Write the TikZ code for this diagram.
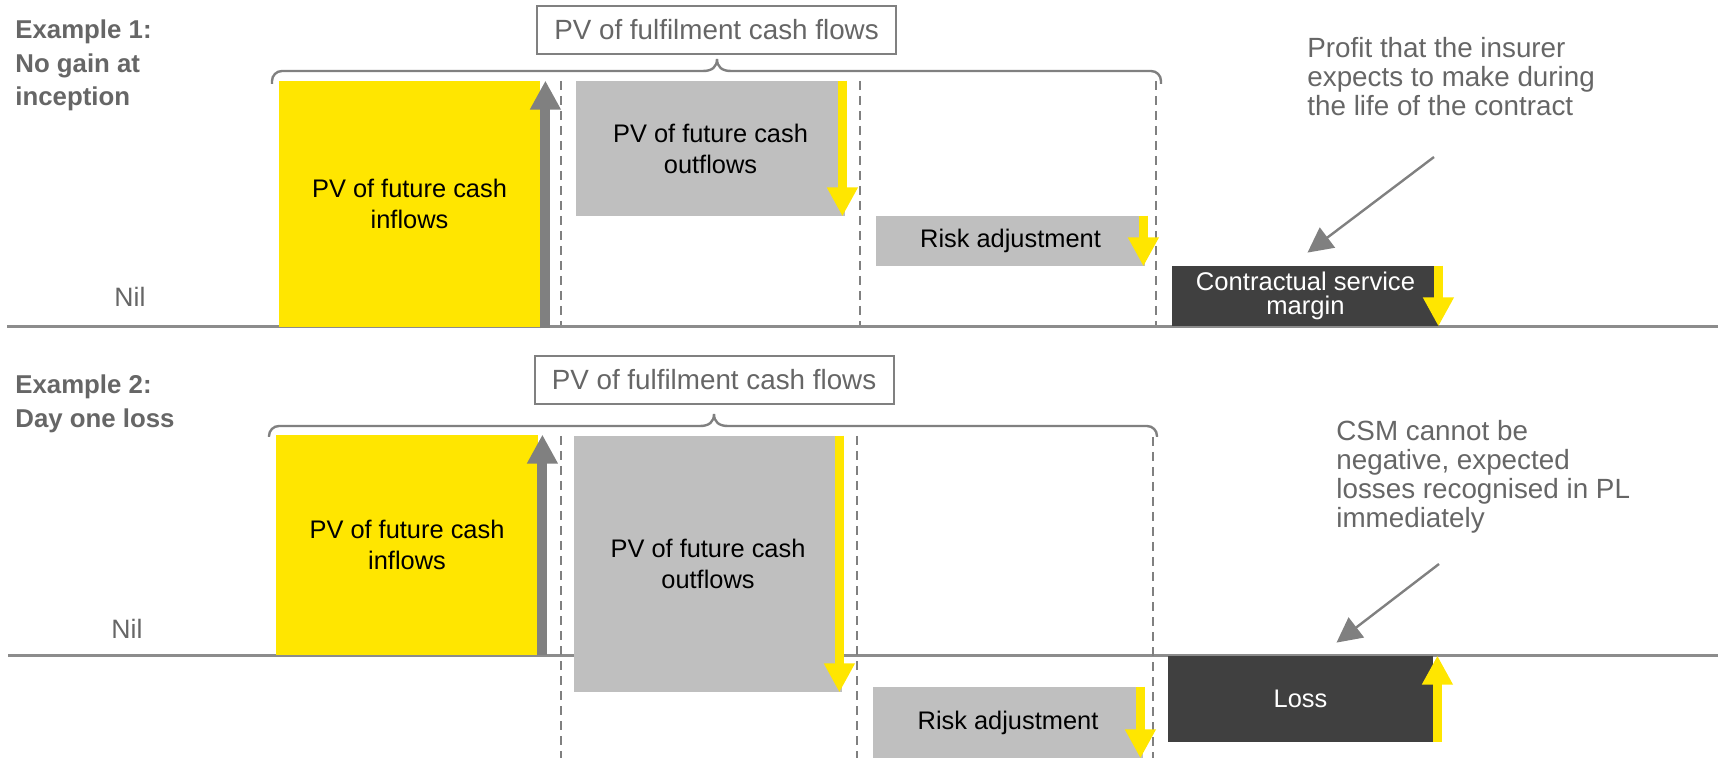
\documentclass[tikz,border=0pt]{standalone}
\usepackage{fontspec}
\setmainfont{Liberation Sans}
\usetikzlibrary{arrows.meta,calc}

\definecolor{eyyellow}{HTML}{FFE600}
\definecolor{boxgray}{HTML}{BFBFBF}
\definecolor{darkbox}{HTML}{404040}
\definecolor{arrowgray}{HTML}{808080}
\definecolor{linegray}{HTML}{8C8C8C}
\definecolor{textgray}{HTML}{666666}

\begin{document}
\begin{tikzpicture}[x=0.5pt,y=-0.5pt,
  block/.style={inner sep=0pt, align=center, font=\fontsize{12.7pt}{15.5pt}\selectfont},
  inbox/.style={block, fill=eyyellow},
  outbox/.style={block, fill=boxgray},
  marginbox/.style={block, fill=darkbox, text=white},
  flowtitle/.style={draw=arrowgray, line width=1pt, fill=white, text=textgray,
    font=\fontsize{13.9pt}{16pt}\selectfont, minimum width=179.5pt,
    minimum height=24pt, inner sep=0pt},
  casetitle/.style={anchor=north west, inner sep=0pt, align=left, text=textgray,
    font=\bfseries\fontsize{12.9pt}{16.75pt}\selectfont},
  nillabel/.style={anchor=base, inner sep=0pt, text=textgray,
    font=\fontsize{13.3pt}{16pt}\selectfont},
  note/.style={anchor=north west, inner sep=0pt, align=left, text=textgray,
    font=\fontsize{13.9pt}{14.5pt}\selectfont},
  axis/.style={draw=linegray, line width=1.5pt},
  divider/.style={draw=arrowgray, line width=1.35pt, dash pattern=on 4.5pt off 3pt},
  bracepen/.style={draw=arrowgray, line width=1.2pt},
  riseflow/.style={draw=arrowgray, line width=5pt,
    -{Triangle[length=14.5pt,width=14.5pt]}},
  dropflow/.style={draw=eyyellow, line width=4.2pt,
    -{Triangle[length=14.5pt,width=14.5pt]}},
  pointer/.style={draw=arrowgray, line width=1.2pt,
    -{Triangle[length=12.5pt,width=12.5pt]}}
]
\useasboundingbox (0,0) rectangle (1718,758);

% ---------- Example 1: no gain at inception ----------
\draw[axis] (7,327) -- (1718,327);
\draw[divider] (561,81) -- (561,325);
\draw[divider] (860,81) -- (860,325);
\draw[divider] (1156,81) -- (1156,325);

\node[casetitle] (caseA) at (15,19.5) {Example 1:\\No gain at\\inception};
\node[nillabel] (nilA) at (130,307) {Nil};

\node[flowtitle] (fcfA) at (716.5,30) {PV of fulfilment cash flows};
\draw[bracepen, rounded corners=5pt] (272,84) -- (272,71) -- (703,71);
\draw[bracepen] (703,71) .. controls (712,71) and (717,67) .. (717,59)
  .. controls (717,67) and (722,71) .. (731,71);
\draw[bracepen, rounded corners=5pt] (731,71) -- (1161,71) -- (1161,84);

\node[inbox, minimum width=130.5pt, minimum height=123pt] (inA) at (409.5,204)
  {PV of future cash\\inflows};
\node[outbox, minimum width=134.5pt, minimum height=67.5pt] (outA) at (710.5,148.5)
  {PV of future cash\\outflows};
\node[outbox, minimum width=134.5pt, minimum height=25pt] (riskA) at (1010.5,241)
  {Risk adjustment};
\node[marginbox, minimum width=133.5pt, minimum height=30pt,
  font=\fontsize{12.8pt}{12.2pt}\selectfont] (csm) at (1305.5,296)
  {Contractual service\\margin};

\draw[riseflow] ($(inA.south east)+(5,1)$) -- ($(inA.north east)+(5,0)$);
\draw[dropflow] ($(outA.north east)+(-3,0)$) -- ($(outA.south east)+(-3,0)$);
\draw[dropflow] ($(riskA.north east)+(-2,0)$) -- ($(riskA.south east)+(-2,0)$);
\draw[dropflow] ($(csm.north east)+(-1,0)$) -- ($(csm.south east)+(-1,0)$);

\node[note] (noteA) at (1307,37)
  {Profit that the insurer\\expects to make during\\the life of the contract};
\coordinate (noteAtail) at (1434,157);
\draw[pointer] (noteAtail) -- ($(csm.north)+(2,-13)$);

% ---------- Example 2: day one loss ----------
\draw[axis] (8,655) -- (1718,655);
\draw[divider] (561,436) -- (561,758);
\draw[divider] (857,436) -- (857,758);
\draw[divider] (1153,437) -- (1153,758);

\node[casetitle] (caseB) at (15,374.5) {Example 2:\\Day one loss};
\node[nillabel] (nilB) at (127,638) {Nil};

\node[flowtitle] (fcfB) at (714,380) {PV of fulfilment cash flows};
\draw[bracepen, rounded corners=5pt] (269,437) -- (269,426) -- (700,426);
\draw[bracepen] (700,426) .. controls (709,426) and (714,422) .. (714,414)
  .. controls (714,422) and (719,426) .. (728,426);
\draw[bracepen, rounded corners=5pt] (728,426) -- (1157,426) -- (1157,437);

\node[inbox, minimum width=131pt, minimum height=110pt] (inB) at (407,545)
  {PV of future cash\\inflows};
\node[outbox, minimum width=134pt, minimum height=128pt] (outB) at (708,564)
  {PV of future cash\\outflows};
\node[outbox, minimum width=135pt, minimum height=35.5pt] (riskB) at (1008,722.5)
  {Risk adjustment};
\node[marginbox, minimum width=132.5pt, minimum height=43pt] (loss) at (1300.5,699)
  {Loss};

\draw[riseflow] ($(inB.south east)+(4,0)$) -- ($(inB.north east)+(4,0)$);
\draw[dropflow] ($(outB.north east)+(-3,0)$) -- ($(outB.south east)+(-3,0)$);
\draw[dropflow] ($(riskB.north east)+(-3,0)$) -- ($(riskB.south east)+(-3,0)$);
\draw[dropflow] ($(loss.south east)+(4,0)$) -- ($(loss.north east)+(4,0)$);

\node[note] (noteB) at (1336,420)
  {CSM cannot be\\negative, expected\\losses recognised in PL\\immediately};
\coordinate (noteBtail) at (1439,564);
\draw[pointer] (noteBtail) -- ($(loss.north)+(36,-13)$);

\end{tikzpicture}
\end{document}
